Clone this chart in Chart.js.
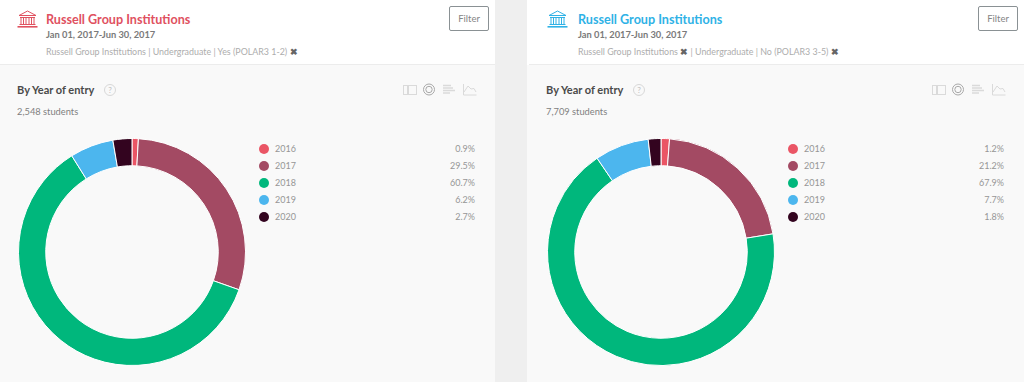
<!DOCTYPE html>
<html><head><meta charset="utf-8">
<script src="https://cdn.jsdelivr.net/npm/chart.js@4"></script>
<style>
html,body{margin:0;padding:0;width:1024px;height:382px;overflow:hidden;background:#efefef;font-family:Lato,"Open Sans",sans-serif}
.panel{position:absolute;top:0;width:495px;height:382px;background:#f9f9f9}
.head{position:absolute;left:0;top:0;width:100%;height:64px;background:#fff;border-bottom:1px solid #ececec}
.abs{position:absolute;white-space:nowrap}
.title{top:12px;font-size:12.6px;font-weight:700;line-height:16px}
.date{top:27.500px;font-size:9.3px;font-weight:700;color:#7a7a7a;line-height:13px}
.crumb{top:45.500px;font-size:8.9px;color:#adadad;line-height:11px}
.crumb b{color:#666;font-size:9px}
.filter{left:449px;top:6px;width:38px;height:23px;border:1px solid #8a9194;border-radius:2px;background:#fff;font-size:9.5px;color:#858585;text-align:center;line-height:23px}
.by{left:17px;top:83px;font-size:11px;font-weight:700;color:#4a4a4a;line-height:14px}
.q{left:104px;top:84px;width:10px;height:10px;border:1px solid #d8d8d8;border-radius:50%;font-size:8px;line-height:10px;text-align:center;color:#c0c0c0}
.stu{left:17px;top:106px;font-size:9.3px;color:#808080;line-height:12px}
canvas{position:absolute}
.wrap{position:absolute;left:18px;top:138px;width:228px;height:228px}
.dot{position:absolute;left:259px;width:10px;height:10px;border-radius:50%}
.ly{left:275px;font-size:9px;color:#969696;line-height:12px}
.lv{right:20px;font-size:9px;color:#969696;line-height:12px}
svg{position:absolute}
</style></head><body>
<div id="root"></div>
<script>
const years = ["2016","2017","2018","2019","2020"];
const colors = ["#ea5565","#a34a63","#00b77c","#4cb6ee","#33041f"];
const leftShares = [0.9,29.5,60.7,6.2,2.7];
const rightShares = [1.2,21.2,67.9,7.7,1.8];
const titleText = "Russell Group Institutions";
const dateText = "Jan 01, 2017-Jun 30, 2017";
const leftCrumb = 'Russell Group Institutions | Undergraduate | Yes (POLAR3 1-2) <b>✖</b>';
const rightCrumb = 'Russell Group Institutions <b>✖</b> | Undergraduate | No (POLAR3 3-5) <b>✖</b>';
const leftStudents = "2,548 students";
const rightStudents = "7,709 students";

function bank(c,x){return `<svg style="left:${x}px;top:10px" width="21" height="18" viewBox="0 0 21 18" fill="none" stroke="${c}" stroke-width="1">
<path d="M2 5.5 10.5 1 19 5.5Z"/><path d="M3 7.5H18M4 8v6M6.5 8v6M9 8v6M12 8v6M14.5 8v6M17 8v6M2.5 14.5H18.5"/><path d="M0.5 16.8H20.5" stroke-width="1.6"/></svg>`;}
function tools(x){return `<svg style="left:${x}px;top:83px" width="76" height="14" viewBox="0 0 76 14" fill="none" stroke="#dadada" stroke-width="1">
<rect x=".5" y="2.5" width="13" height="9"/><path d="M5 2.5v9" stroke-width="2"/>
<circle cx="26" cy="6.5" r="5.5" stroke="#a9a9a9"/><circle cx="26" cy="6.5" r="3.2" stroke="#a9a9a9"/>
<path d="M40 2.5h8M40 5h10M40 7.5h12M40 10h7" stroke-width="1.6"/>
<path d="M60.5 1v11h13M61 9l4-6 3 3 3-.5 2 3.500"/></svg>`;}
function panel(x,color,crumb,students,shares,textX,bankX,ext){
  const p=document.createElement('div');p.className='panel';p.style.left=x+'px';
  if(ext)p.style.boxShadow='-'+ext+'px 0 0 #f9f9f9';
  let legend='';
  years.forEach((y,i)=>{const t=143+17.1*i;
    legend+=`<div class="dot" style="top:${t+1}px;background:${colors[i]}"></div><div class="abs ly" style="top:${t}px">${y}</div><div class="abs lv" style="top:${t}px">${shares[i].toFixed(1)}%</div>`;});
  p.innerHTML=`<div class="head" style="${ext?'box-shadow:-'+ext+'px 0 0 #fff':''}"></div>${bank(color,bankX)}
  <div class="abs title" style="left:${textX}px;color:${color}">${titleText}</div>
  <div class="abs date" style="left:${textX}px">${dateText}</div><div class="abs crumb" style="left:${textX}px">${crumb}</div>
  <div class="abs filter">Filter</div>
  <div class="abs by">By Year of entry</div><div class="abs q">?</div>
  <div class="abs stu">${students}</div>${tools(403)}${legend}
  <div class="wrap"><canvas></canvas></div>`;
  document.getElementById('root').appendChild(p);
  new Chart(p.querySelector('canvas'),{type:'doughnut',
    data:{labels:years,datasets:[{data:shares,backgroundColor:colors,borderColor:'#ffffff',borderWidth:1}]},
    options:{responsive:true,maintainAspectRatio:false,animation:false,cutout:'76%',
      layout:{padding:0},plugins:{legend:{display:false},tooltip:{enabled:false}}}});
}
panel(0,"#e0515f",leftCrumb,leftStudents,leftShares,46,17,0);
panel(529,"#2fb2e6",rightCrumb,rightStudents,rightShares,49,18,2);
</script>
</body></html>
